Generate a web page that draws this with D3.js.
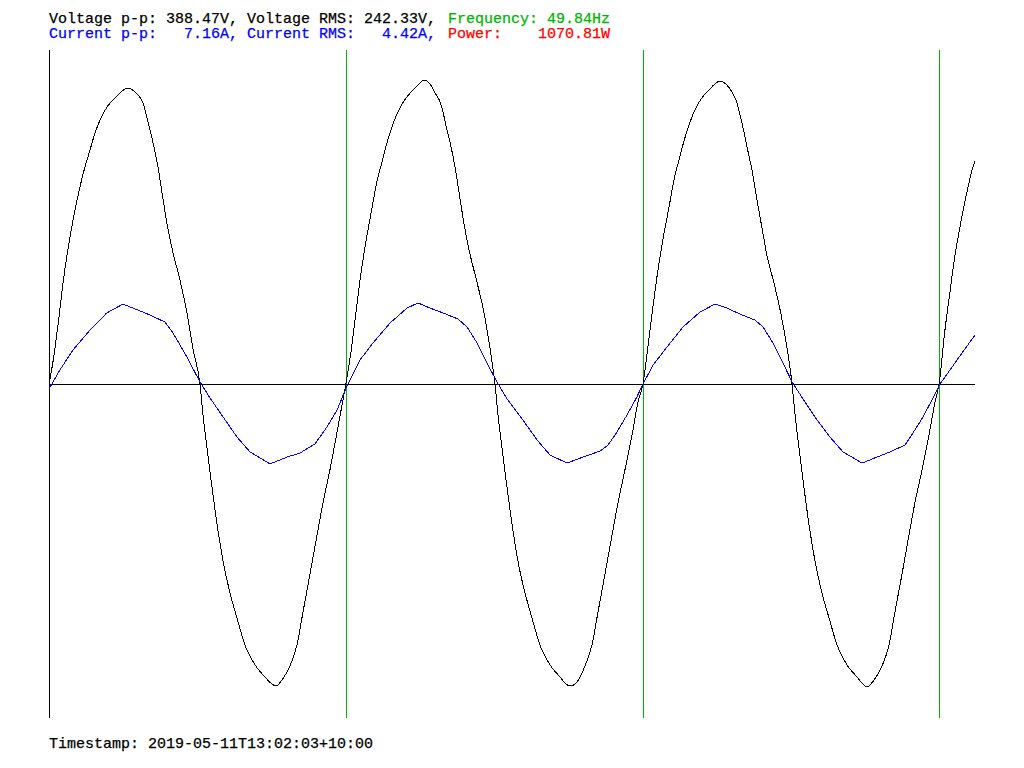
<!DOCTYPE html>
<html>
<head>
<meta charset="utf-8">
<script src="https://cdn.jsdelivr.net/npm/d3@7"></script>
<style>
  html, body { margin: 0; padding: 0; background: #fff; }
  svg { display: block; }
  text { font-family: "Liberation Mono", "DejaVu Sans Mono", monospace; font-size: 15px; white-space: pre; }
</style>
</head>
<body>
<svg id="chart" width="1024" height="768"></svg>
<script>
// ---- Data (time in ms, voltage in V, current in A) ----
const voltageTime = [
  0, 0.34, 0.68, 1.01, 1.35, 1.76, 2.09, 2.43, 2.77, 3.11, 3.45, 3.92, 4.46, 4.86, 5.34, 5.81, 6.22, 6.42, 6.62, 7.03,
  7.36, 7.70, 8.04, 8.38, 8.85, 9.32, 9.73, 10.20,
  10.40, 10.74, 11.08, 11.42, 11.76, 12.23, 12.70, 13.24, 13.92, 14.59, 15.07, 15.34, 15.74, 16.28, 16.75, 17.16, 17.63, 18.11,
  18.51, 18.98, 19.46, 19.86, 20.06,
  20.40, 20.74, 21.08, 21.42, 21.82, 22.16, 22.50, 22.83, 23.17, 23.51, 23.98, 24.52, 24.93, 25.33, 25.74, 26.08, 26.42, 26.62,
  26.82, 27.09, 27.43, 27.77, 28.10, 28.44, 28.91, 29.39, 29.79, 30.13,
  30.33, 30.67, 31.01, 31.35, 31.68, 32.16, 32.63, 33.17, 33.85, 34.52, 34.93, 35.20, 35.67, 36.21, 36.68, 37.09, 37.56, 38.04,
  38.44, 38.91, 39.39, 39.79, 40.13,
  40.47, 40.81, 41.14, 41.48, 41.89, 42.22, 42.56, 42.90, 43.24, 43.57, 44.05, 44.59, 44.99, 45.33, 45.80, 46.14, 46.48, 46.68,
  46.89, 47.16, 47.49, 47.83, 48.17, 48.51, 48.98, 49.45, 49.86, 50.20,
  50.40, 50.74, 51.07, 51.41, 51.75, 52.22, 52.70, 53.24, 53.91, 54.59, 54.99, 55.26, 55.74, 56.28, 56.75, 57.15, 57.63, 58.10,
  58.50, 58.98, 59.45, 59.86, 60.13,
  60.53, 60.87, 61.14, 61.48, 61.82, 62.15, 62.42, 62.56
];
const voltageValues = [
  0, 18.5, 43.4, 69.0, 90.1, 111.2, 125.9, 138.7, 149.5, 160.4, 168.7, 177.0, 182.7, 186.6, 189.1, 186.6, 182.1, 177.6, 170.0, 154.0,
  138.7, 118.2, 99.0, 83.7, 66.5, 45.4, 22.4, 0,
  -19.2, -46.0, -70.9, -93.9, -113.1, -133.5, -149.5, -166.8, -179.5, -187.2, -191.7, -193.0, -189.1, -180.2, -166.8, -145.7, -121.4, -96.5,
  -76.0, -54.9, -30.7, -10.2, 0,
  20.4, 46.0, 70.9, 91.4, 112.5, 129.7, 141.8, 154.0, 164.2, 172.5, 180.8, 187.2, 191.0, 194.2, 191.7, 185.9, 180.2, 173.8,
  164.8, 154.6, 138.7, 118.2, 99.0, 83.1, 65.2, 45.4, 23.0, 0,
  -19.2, -46.0, -70.9, -93.9, -113.1, -133.5, -149.5, -166.8, -179.5, -187.2, -191.7, -193.0, -190.4, -180.2, -166.8, -145.7, -121.4, -96.5,
  -76.0, -54.9, -32.6, -11.5, 0,
  24.3, 49.8, 72.8, 92.7, 113.1, 130.3, 143.1, 155.3, 165.5, 173.8, 182.1, 187.9, 191.7, 193.6, 191.0, 186.6, 179.5, 171.9,
  163.6, 151.4, 136.7, 117.6, 99.7, 81.8, 64.5, 44.7, 23.0, 0,
  -19.2, -46.0, -70.9, -93.9, -113.1, -133.5, -149.5, -166.8, -179.5, -187.2, -191.7, -193.6, -189.1, -180.2, -166.8, -145.7, -121.4, -96.5,
  -76.0, -54.9, -32.6, -11.5, 0,
  34.5, 58.8, 78.0, 97.1, 113.7, 128.4, 138.7, 142.5
];
const currentTime = [
  0, 0.74, 1.62, 2.77, 3.90, 5.00, 5.68, 6.82, 7.84, 8.38, 9.32, 10.20, 10.88, 11.76, 12.70, 13.58, 14.93, 16.08, 16.96, 17.97, 18.78, 19.46, 20.13,
  21.01, 21.89, 23.04, 24.19, 24.93, 25.74, 26.62, 27.63, 28.24, 28.92, 29.59, 30.27, 30.94, 32.02, 32.97, 33.85, 35.00, 36.08, 37.23, 37.77, 38.37, 39.05, 39.72, 40.13,
  40.81, 41.75, 42.83, 43.98, 44.99, 45.81, 46.68, 47.70, 48.24, 48.91, 49.59, 50.20, 50.94, 51.89, 52.76, 53.64, 54.93, 55.94, 56.82, 57.83, 58.37, 59.05, 59.72, 60.20,
  60.87, 61.68, 62.56
];
const currentValues = [
  -0.22, 0.63, 1.53, 2.42, 3.19, 3.59, 3.41, 3.10, 2.78, 2.29, 1.21, 0.09, -0.63, -1.48, -2.38, -3.05, -3.59, -3.28, -3.10, -2.69, -1.93, -1.17, -0.09,
  1.08, 1.84, 2.74, 3.41, 3.64, 3.41, 3.19, 2.92, 2.56, 1.84, 0.94, 0.09, -0.67, -1.62, -2.51, -3.19, -3.55, -3.28, -3.01, -2.74, -2.16, -1.39, -0.58, 0,
  0.85, 1.66, 2.56, 3.23, 3.59, 3.41, 3.14, 2.87, 2.56, 1.84, 0.94, 0.09, -0.67, -1.62, -2.38, -3.05, -3.55, -3.28, -3.05, -2.74, -2.20, -1.48, -0.63, 0,
  0.63, 1.39, 2.20
];
// Start of each voltage cycle (upward zero crossings), ms
const cycleStarts = [20.06, 40.13, 60.13];

const headerLine1 = [
  { text: "Voltage p-p: 388.47V, Voltage RMS: 242.33V,", color: "#000000", x: 49 },
  { text: "Frequency: 49.84Hz", color: "#00b400", x: 448 }
];
const headerLine2 = [
  { text: "Current p-p:   7.16A, Current RMS:   4.42A,", color: "#0000ff", x: 49 },
  { text: "Power:    1070.81W", color: "#ff0000", x: 448 }
];
const timestampLabel = "Timestamp: 2019-05-11T13:02:03+10:00";

// ---- Layout ----
const svg = d3.select("#chart");
const plotLeft = 49, plotRight = 975, plotTop = 50, plotBottom = 718;

const x = d3.scaleLinear().domain([0, 62.56]).range([plotLeft, plotRight]);
const yV = d3.scaleLinear().domain([-213.4, 213.4]).range([plotBottom, plotTop]);
const yI = d3.scaleLinear().domain([-15, 15]).range([plotBottom, plotTop]);

// header text
function drawLine(parts, y) {
  const t = svg.append("text").attr("y", y);
  parts.forEach(p => t.append("tspan").attr("x", p.x).attr("fill", p.color)
    .attr("stroke", p.color).attr("stroke-width", 0.25).text(p.text));
}
drawLine(headerLine1, 23);
drawLine(headerLine2, 38);
svg.append("text").attr("x", 49).attr("y", 748).attr("fill", "#000")
  .attr("stroke", "#000").attr("stroke-width", 0.25).text(timestampLabel);

// cycle markers
svg.append("g").selectAll("line").data(cycleStarts).join("line")
  .attr("x1", d => Math.round(x(d)) + 0.5).attr("x2", d => Math.round(x(d)) + 0.5)
  .attr("y1", plotTop).attr("y2", plotBottom)
  .attr("stroke", "#00b400").attr("stroke-width", 1).attr("shape-rendering", "crispEdges");

// vertical axis line
svg.append("line")
  .attr("x1", plotLeft + 0.5).attr("x2", plotLeft + 0.5)
  .attr("y1", plotTop).attr("y2", plotBottom)
  .attr("stroke", "#000").attr("shape-rendering", "crispEdges");

// horizontal zero line
svg.append("line")
  .attr("x1", plotLeft).attr("x2", plotRight)
  .attr("y1", Math.round(yV(0)) + 0.5).attr("y2", Math.round(yV(0)) + 0.5)
  .attr("stroke", "#000").attr("shape-rendering", "crispEdges");

// voltage
const vData = voltageTime.map((t, i) => [t, voltageValues[i]]);
svg.append("path")
  .datum(vData)
  .attr("fill", "none").attr("stroke", "#000").attr("stroke-width", 1)
  .attr("shape-rendering", "crispEdges")
  .attr("d", d3.line().x(d => x(d[0])).y(d => yV(d[1])).curve(d3.curveMonotoneX));

// current
const iData = currentTime.map((t, i) => [t, currentValues[i]]);
svg.append("path")
  .datum(iData)
  .attr("fill", "none").attr("stroke", "#0000ff").attr("stroke-width", 1)
  .attr("shape-rendering", "crispEdges")
  .attr("d", d3.line().x(d => x(d[0])).y(d => yI(d[1])));
</script>
</body>
</html>
